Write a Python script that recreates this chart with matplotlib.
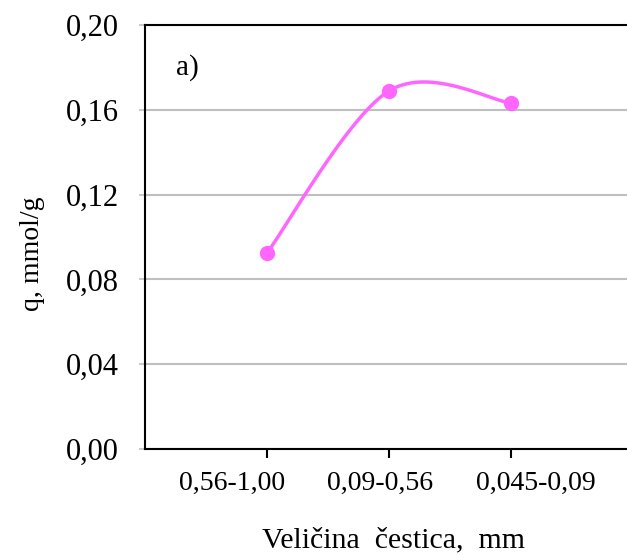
import numpy as np
import matplotlib
matplotlib.use("Agg")
import matplotlib.pyplot as plt

# ------------------ DATA ------------------ #
categories = ["0,56-1,00", "0,09-0,56", "0,045-0,09"]
q_values = [0.0925, 0.1689, 0.1632]
y_ticks = [0.00, 0.04, 0.08, 0.12, 0.16, 0.20]
y_tick_labels = ["0,00", "0,04", "0,08", "0,12", "0,16", "0,20"]

line_color = "#ff66ff"

plt.rcParams["font.family"] = ["Liberation Serif", "DejaVu Serif"]


# Excel-like smoothed line (Catmull-Rom -> cubic Bezier)
def smooth_curve(xs, ys, n=60):
    pts = np.column_stack([xs, ys]).astype(float)
    ext = np.vstack([pts[0], pts, pts[-1]])
    out = []
    for i in range(len(pts) - 1):
        p0, p1, p2, p3 = ext[i], ext[i + 1], ext[i + 2], ext[i + 3]
        b1 = p1 + (p2 - p0) / 6.0
        b2 = p2 - (p3 - p1) / 6.0
        t = np.linspace(0, 1, n)[:, None]
        seg = ((1 - t) ** 3) * p1 + 3 * ((1 - t) ** 2) * t * b1 \
            + 3 * (1 - t) * t ** 2 * b2 + t ** 3 * p2
        out.append(seg)
    out = np.vstack(out)
    return out[:, 0], out[:, 1]


x = np.arange(len(categories))
sx, sy = smooth_curve(x, q_values)

# ------------------ FIGURE ------------------ #
fig = plt.figure(figsize=(6.27, 5.55), dpi=100)
ax = fig.add_axes([145 / 627, 106 / 555, 488 / 627, 424 / 555])

ax.plot(sx, sy, color=line_color, lw=2.5, solid_capstyle="round", zorder=3)
ax.plot(x, q_values, "o", color=line_color, ms=10, zorder=4)

ax.set_xlim(-1, 3)
ax.set_ylim(0, 0.20)
ax.set_xticks(x)
ax.set_xticklabels([])
ax.set_yticks(y_ticks)
ax.set_yticklabels(y_tick_labels, fontsize=22)

# category labels sit a bit spread out relative to the tick marks
label_shift = [-0.29, -0.07, 0.2]
for xi, lab, dx in zip(x, categories, label_shift):
    ax.text(xi + dx, -0.08, lab, transform=ax.get_xaxis_transform(),
            ha="center", va="center", fontsize=20, clip_on=False)

ax.yaxis.grid(True, color="#bfbfbf", lw=1.5)
ax.set_axisbelow(True)

for side in ["left", "bottom", "top", "right"]:
    ax.spines[side].set_linewidth(1.5)
    ax.spines[side].set_color("black")

ax.tick_params(axis="x", direction="out", length=6.5, width=1.5)
ax.tick_params(axis="y", direction="out", length=4, width=1.2,
               color="#bfbfbf", pad=15)

ax.set_xlabel("Veličina  čestica,  mm", fontsize=21.5)
ax.xaxis.set_label_coords(0.51, -0.186)
ax.set_ylabel("q, mmol/g", fontsize=20)
ax.yaxis.set_label_coords(-0.205, 0.46)

ax.text(0.063, 0.9, "a)", transform=ax.transAxes, fontsize=21,
        ha="left", va="center")

fig.savefig("out.png", dpi=100)
